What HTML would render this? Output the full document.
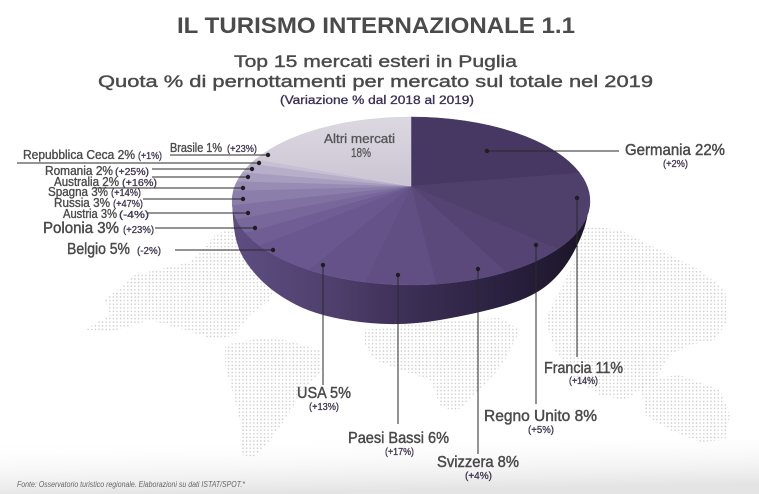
<!DOCTYPE html>
<html><head><meta charset="utf-8"><style>
html,body{margin:0;padding:0;background:#fff;}
svg{display:block;}
text{font-family:"Liberation Sans",sans-serif;}
</style></head><body>
<svg width="759" height="494" viewBox="0 0 759 494" xmlns="http://www.w3.org/2000/svg">
<defs>
<pattern id="dots" patternUnits="userSpaceOnUse" width="3.6" height="3.6">
<circle cx="1.8" cy="1.8" r="0.75" fill="#c6c6c6"/>
</pattern>
<linearGradient id="side" x1="232" y1="0" x2="590" y2="0" gradientUnits="userSpaceOnUse">
<stop offset="0" stop-color="#5e4d81"/>
<stop offset="0.28" stop-color="#4f3f6d"/>
<stop offset="0.52" stop-color="#3a2d52"/>
<stop offset="0.75" stop-color="#2a2140"/>
<stop offset="1" stop-color="#1b1526"/>
</linearGradient>
<linearGradient id="bottom" x1="0" y1="0" x2="0.25" y2="1">
<stop offset="0" stop-color="#ffffff" stop-opacity="0"/>
<stop offset="1" stop-color="#e4e4e4" stop-opacity="1"/>
</linearGradient>
<linearGradient id="altri" x1="0" y1="0" x2="0" y2="1">
<stop offset="0" stop-color="#dcd8e1"/>
<stop offset="1" stop-color="#cbc5d3"/>
</linearGradient>
</defs>
<rect width="759" height="494" fill="#fff"/>
<rect x="0" y="440" width="759" height="54" fill="url(#bottom)"/>

<!-- world map dots -->
<g fill="url(#dots)">
<polygon points="85,330 110,315 105,300 135,275 190,262 215,235 240,225 262,240 280,262 278,275 270,300 250,315 235,335 215,340 185,330 150,320 110,332"/>
<polygon points="225,345 260,338 285,340 320,350 322,370 300,395 285,420 270,440 255,457 242,455 240,420 232,390 225,365"/>
<polygon points="365,330 430,322 500,318 520,330 505,360 490,380 470,400 455,412 440,405 430,380 400,370 375,360 365,345"/>
<polygon points="580,225 620,230 660,250 700,270 725,290 728,320 715,340 690,345 670,355 655,380 625,400 600,395 575,380 555,350 545,320 560,290 575,260"/>
<polygon points="640,380 680,375 720,390 730,415 725,440 700,442 670,430 645,415"/>
</g>

<!-- Title -->
<text x="177" y="33" font-size="22" font-weight="bold" fill="#4b4b4b" textLength="398" lengthAdjust="spacingAndGlyphs">IL TURISMO INTERNAZIONALE 1.1</text>
<text x="234" y="67" font-size="17" fill="#4a4a4a" stroke="#4a4a4a" stroke-width="0.4" textLength="283" lengthAdjust="spacingAndGlyphs">Top 15 mercati esteri in Puglia</text>
<text x="98" y="87" font-size="17" fill="#4a4a4a" stroke="#4a4a4a" stroke-width="0.4" textLength="555" lengthAdjust="spacingAndGlyphs">Quota % di pernottamenti per mercato sul totale nel 2019</text>
<text x="280" y="104" font-size="11.5" fill="#3a2f55" stroke="#3a2f55" stroke-width="0.3" textLength="194" lengthAdjust="spacingAndGlyphs">(Variazione % dal 2018 al 2019)</text>

<!-- Pie side -->
<path d="M232,201 L233,218 Q234,236 239,249 Q244,262 258.5,277.5 Q273,293 296.5,305 Q320,317 360,322 Q400,327 440,320 Q480,313 506.5,305 Q533,297 548,284.5 Q563,272 573.5,252.5 Q584,233 587,218 L590,201 A179,84 0 0 1 232,201 Z" fill="url(#side)"/>

<!-- Pie top slices -->
<g stroke-width="0.5">
<path d="M411,186 L411,117 A179,84 0 0 1 579.7,173 Z" fill="#463862" stroke="#463862"/>
<path d="M411,186 L579.7,173 A179,84 0 0 1 557.6,249.2 Z" fill="#4e3f6b" stroke="#4e3f6b"/>
<path d="M411,186 L557.6,249.2 A179,84 0 0 1 505.9,272.2 Z" fill="#554473" stroke="#554473"/>
<path d="M411,186 L505.9,272.2 A179,84 0 0 1 435.9,284.2 Z" fill="#5b497b" stroke="#5b497b"/>
<path d="M411,186 L435.9,284.2 A179,84 0 0 1 364.7,282.1 Z" fill="#614f83" stroke="#614f83"/>
<path d="M411,186 L364.7,282.1 A179,84 0 0 1 308.3,269.8 Z" fill="#655289" stroke="#655289"/>
<path d="M411,186 L308.3,269.8 A179,84 0 0 1 259.2,245.5 Z" fill="#6a578f" stroke="#6a578f"/>
<path d="M411,186 L259.2,245.5 A179,84 0 0 1 245.3,232.7 Z" fill="#6f5d93" stroke="#6f5d93"/>
<path d="M411,186 L245.3,232.7 A179,84 0 0 1 236.2,219 Z" fill="#77679b" stroke="#77679b"/>
<path d="M411,186 L236.2,219 A179,84 0 0 1 232.2,204.8 Z" fill="#8071a2" stroke="#8071a2"/>
<path d="M411,186 L232.2,204.8 A179,84 0 0 1 233.4,190.5 Z" fill="#8b7eab" stroke="#8b7eab"/>
<path d="M411,186 L233.4,190.5 A179,84 0 0 1 237.1,181.1 Z" fill="#988cb4" stroke="#988cb4"/>
<path d="M411,186 L237.1,181.1 A179,84 0 0 1 243,172 Z" fill="#a79dbf" stroke="#a79dbf"/>
<path d="M411,186 L243,172 A179,84 0 0 1 251.1,163.3 Z" fill="#b7afca" stroke="#b7afca"/>
<path d="M411,186 L251.1,163.3 A179,84 0 0 1 256,159 Z" fill="#c6c0d3" stroke="#c6c0d3"/>
<path d="M411,186 L256,159 A179,84 0 0 1 411,117 Z" fill="url(#altri)" stroke="#d3cfd9"/>
</g>

<text x="324" y="143" font-size="12.5" fill="#555" stroke="#555" stroke-width="0.3" textLength="71" lengthAdjust="spacingAndGlyphs">Altri mercati</text>
<text x="351" y="157" font-size="12.5" fill="#555" stroke="#555" stroke-width="0.3" textLength="20" lengthAdjust="spacingAndGlyphs">18%</text>

<!-- Leader lines -->
<g stroke="#2a2a2a" stroke-width="1" fill="none">
<line x1="487" y1="151" x2="619" y2="151"/>
<line x1="577" y1="198" x2="577" y2="357"/>
<line x1="536" y1="245" x2="536" y2="404"/>
<line x1="478" y1="269" x2="478" y2="454"/>
<line x1="398" y1="275" x2="398" y2="424"/>
<line x1="323" y1="265" x2="323" y2="385"/>
<line x1="170" y1="155" x2="268" y2="155"/>
<line x1="17" y1="163" x2="259" y2="163"/>
<line x1="152" y1="169" x2="252" y2="169"/>
<line x1="152" y1="177" x2="248" y2="177"/>
<line x1="93" y1="188" x2="243" y2="188"/>
<line x1="143" y1="199" x2="243" y2="199"/>
<line x1="147" y1="213" x2="248" y2="213"/>
<line x1="155" y1="228" x2="255" y2="228"/>
<line x1="175" y1="250" x2="273" y2="250"/>
</g>
<g fill="#1e1e1e">
<circle cx="487" cy="151" r="2.2"/>
<circle cx="577" cy="198" r="2.2"/>
<circle cx="536" cy="245" r="2.2"/>
<circle cx="478" cy="269" r="2.2"/>
<circle cx="398" cy="275" r="2.2"/>
<circle cx="323" cy="265" r="2.2"/>
<circle cx="268" cy="155" r="2.2"/>
<circle cx="259" cy="163" r="2.2"/>
<circle cx="252" cy="169" r="2.2"/>
<circle cx="248" cy="177" r="2.2"/>
<circle cx="243" cy="188" r="2.2"/>
<circle cx="243" cy="199" r="2.2"/>
<circle cx="248" cy="213" r="2.2"/>
<circle cx="255" cy="228" r="2.2"/>
<circle cx="273" cy="250" r="2.2"/>
</g>

<!-- Right/bottom labels -->
<g fill="#4a4a4a" stroke="#4a4a4a" stroke-width="0.45" font-size="16">
<text x="625" y="155" textLength="100" lengthAdjust="spacingAndGlyphs">Germania 22%</text>
<text x="544" y="373" textLength="79" lengthAdjust="spacingAndGlyphs">Francia 11%</text>
<text x="484" y="421" textLength="113" lengthAdjust="spacingAndGlyphs">Regno Unito 8%</text>
<text x="437" y="467" textLength="82" lengthAdjust="spacingAndGlyphs">Svizzera 8%</text>
<text x="348" y="443" textLength="101" lengthAdjust="spacingAndGlyphs">Paesi Bassi 6%</text>
<text x="297" y="398" textLength="54" lengthAdjust="spacingAndGlyphs">USA 5%</text>
<text x="43" y="233" textLength="76" lengthAdjust="spacingAndGlyphs">Polonia 3%</text>
<text x="67" y="254" textLength="63" lengthAdjust="spacingAndGlyphs">Belgio 5%</text>
</g>
<g fill="#4a4a4a" stroke="#4a4a4a" stroke-width="0.35" font-size="12.5">
<text x="170" y="152" textLength="52" lengthAdjust="spacingAndGlyphs">Brasile 1%</text>
<text x="23" y="159" textLength="112" lengthAdjust="spacingAndGlyphs">Repubblica Ceca 2%</text>
<text x="45" y="175" textLength="68" lengthAdjust="spacingAndGlyphs">Romania 2%</text>
<text x="54" y="186" textLength="65" lengthAdjust="spacingAndGlyphs">Australia 2%</text>
<text x="48" y="196" textLength="60" lengthAdjust="spacingAndGlyphs">Spagna 3%</text>
<text x="54" y="207" textLength="56" lengthAdjust="spacingAndGlyphs">Russia 3%</text>
<text x="63" y="218" textLength="54" lengthAdjust="spacingAndGlyphs">Austria 3%</text>
</g>
<g fill="#3e3550" stroke="#3e3550" stroke-width="0.3" font-size="10">
<text x="663" y="167" textLength="25" lengthAdjust="spacingAndGlyphs">(+2%)</text>
<text x="569" y="384" textLength="29" lengthAdjust="spacingAndGlyphs">(+14%)</text>
<text x="528" y="433" textLength="26" lengthAdjust="spacingAndGlyphs">(+5%)</text>
<text x="465" y="479" textLength="27" lengthAdjust="spacingAndGlyphs">(+4%)</text>
<text x="385" y="455" textLength="29" lengthAdjust="spacingAndGlyphs">(+17%)</text>
<text x="309" y="410" textLength="30" lengthAdjust="spacingAndGlyphs">(+13%)</text>
<text x="123" y="233" textLength="31" lengthAdjust="spacingAndGlyphs">(+23%)</text>
<text x="137" y="254" textLength="24" lengthAdjust="spacingAndGlyphs">(-2%)</text>
<text x="227" y="152" textLength="30" lengthAdjust="spacingAndGlyphs">(+23%)</text>
<text x="138" y="159" textLength="24" lengthAdjust="spacingAndGlyphs">(+1%)</text>
<text x="115" y="175" textLength="34" lengthAdjust="spacingAndGlyphs">(+25%)</text>
<text x="122" y="186" textLength="35" lengthAdjust="spacingAndGlyphs">(+16%)</text>
<text x="111" y="196" textLength="30" lengthAdjust="spacingAndGlyphs">(+14%)</text>
<text x="113" y="207" textLength="30" lengthAdjust="spacingAndGlyphs">(+47%)</text>
<text x="119" y="218" textLength="30" lengthAdjust="spacingAndGlyphs">(-4%)</text>
</g>

<text x="17" y="487" font-size="8" font-style="italic" fill="#666" textLength="228" lengthAdjust="spacingAndGlyphs">Fonte:  Osservatorio turistico regionale. Elaborazioni su dati ISTAT/SPOT.*</text>
</svg>
</body></html>
